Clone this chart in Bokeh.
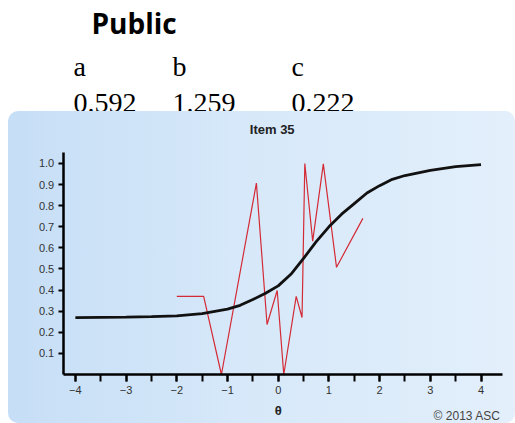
from bokeh.plotting import figure
from bokeh.layouts import column, row
from bokeh.models import Label, Spacer, SingleIntervalTicker, FixedTicker, PrintfTickFormatter
from bokeh.embed import file_html
from bokeh.resources import INLINE

# item parameters printed above the chart
param_names = ["a", "b", "c"]
param_values = ["0.592", "1.259", "0.222"]

# model curve (black)
theta_curve = [-4, -3.5, -3, -2.5, -2, -1.5, -1, -0.75, -0.5, -0.25, 0, 0.25,
               0.5, 0.75, 1, 1.25, 1.5, 1.75, 2, 2.25, 2.5, 3, 3.5, 4]
prob_curve = [0.270, 0.271, 0.272, 0.274, 0.278, 0.289, 0.310, 0.328, 0.355, 0.385, 0.420, 0.475,
              0.550, 0.630, 0.700, 0.760, 0.810, 0.860, 0.895, 0.925, 0.943, 0.967, 0.985, 0.995]

# observed proportions (red)
theta_obs = [-2.0, -1.47, -1.12, -0.43, -0.22, -0.02, 0.11, 0.355, 0.47, 0.525, 0.68, 0.89, 1.15, 1.67]
prob_obs = [0.37, 0.37, 0.0, 0.907, 0.237, 0.398, 0.0, 0.37, 0.27, 1.0, 0.632, 0.998, 0.508, 0.74]

y_ticks = [0.1, 0.2, 0.3, 0.4, 0.5, 0.6, 0.7, 0.8, 0.9, 1.0]

# header with the slide text
head = figure(width=515, height=111, x_range=(0, 515), y_range=(0, 111),
              toolbar_location=None, tools="", output_backend="svg",
              x_axis_type=None, y_axis_type=None, min_border=0)
head.outline_line_color = None
head.add_layout(Label(x=91, y=89, x_units="screen", y_units="screen", text="Public",
                      text_font="Open Sans", text_font_style="bold", text_font_size="28px",
                      text_color="black", text_baseline="middle"))
for xpos, name, val in zip([73, 172, 291], param_names, param_values):
    head.add_layout(Label(x=xpos, y=45, x_units="screen", y_units="screen", text=name,
                          text_font="Liberation Serif", text_font_size="28px",
                          text_color="black", text_baseline="middle"))
    head.add_layout(Label(x=xpos, y=9, x_units="screen", y_units="screen", text=val,
                          text_font="Liberation Serif", text_font_size="28px",
                          text_color="black", text_baseline="middle"))

# chart panel: the frame fills the whole panel, axes are pinned inside it
p = figure(width=507, height=312, x_range=(-5.319, 4.680), y_range=(-0.2322, 1.2464),
           toolbar_location=None, tools="", output_backend="svg", min_border=0)
p.background_fill_alpha = 0
p.border_fill_alpha = 0
p.outline_line_color = None
p.grid.visible = False
p.styles = {"background": "linear-gradient(90deg, #c6def6 0%, #d6e8f9 45%, #e3effb 100%)",
            "border-radius": "10px", "overflow": "hidden"}

p.line(theta_obs, prob_obs, line_color="#d42a35", line_width=1.2)
p.line(theta_curve, prob_curve, line_color="#111111", line_width=2.8)

p.xaxis.fixed_location = 0
p.xaxis.bounds = (-4.24, 4.42)
p.yaxis.fixed_location = -4.24
p.yaxis.bounds = (0, 1.052)
p.xaxis.ticker = SingleIntervalTicker(interval=1, num_minor_ticks=2)
p.yaxis.ticker = FixedTicker(ticks=y_ticks)
p.yaxis.formatter = PrintfTickFormatter(format="%.1f")
for ax in (p.xaxis, p.yaxis):
    ax.axis_line_width = 2.5
    ax.axis_line_color = "black"
    ax.major_tick_line_width = 2
    ax.major_tick_line_color = "black"
    ax.minor_tick_line_width = 2
    ax.minor_tick_line_color = "black"
    ax.major_tick_in = 0
    ax.minor_tick_in = 0
    ax.major_label_text_font = "Liberation Sans"
    ax.major_label_text_font_size = "11px"
    ax.major_label_text_color = "#333333"
    ax.major_label_standoff = 4
p.xaxis.major_tick_out = 7
p.xaxis.minor_tick_out = 7
p.yaxis.major_tick_out = 5
p.yaxis.minor_tick_out = 0

p.add_layout(Label(x=263.7, y=294, x_units="screen", y_units="screen", text="Item 35",
                   text_font="Liberation Sans", text_font_style="bold", text_font_size="13px",
                   text_color="#222222", text_align="center", text_baseline="middle"))
p.add_layout(Label(x=269.7, y=13, x_units="screen", y_units="screen", text="θ",
                   text_font="Liberation Sans", text_font_style="bold", text_font_size="13px",
                   text_color="#222222", text_align="center", text_baseline="middle"))
p.add_layout(Label(x=492, y=8, x_units="screen", y_units="screen", text="© 2013 ASC",
                   text_font="Liberation Sans", text_font_size="12px",
                   text_color="#444444", text_align="right", text_baseline="middle"))

layout = column(head, row(Spacer(width=8, height=312), p))
open("out.html", "w").write(file_html(layout, INLINE))
